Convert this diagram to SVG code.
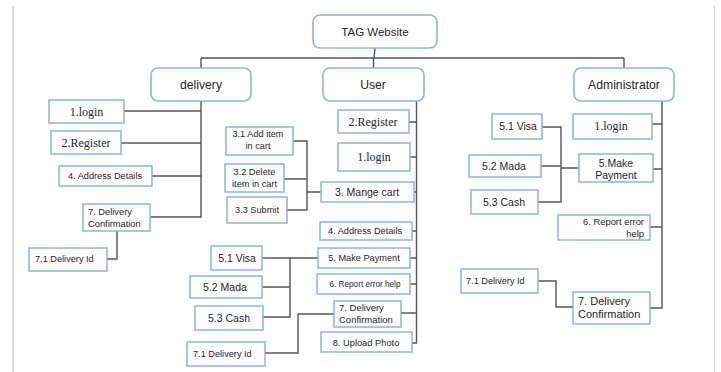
<svg xmlns="http://www.w3.org/2000/svg" width="721" height="372" viewBox="0 0 721 372">
<style>
.hdr{fill:#fff;stroke:#8db3e2;stroke-width:1.6}
.bx{fill:#fff;stroke:#8db3e2;stroke-width:1.5}
.ln{fill:none;stroke:#555;stroke-width:1.4}
text{font-family:"Liberation Sans",Arial,sans-serif;fill:#262626;font-size:9.2px}
.c{text-anchor:middle}
.r{text-anchor:end}
.h{font-size:12.2px}
.sf{font-family:"Liberation Serif","Times New Roman",serif;font-size:12px}
.m{font-size:10.5px}
</style>
<rect width="721" height="372" fill="#fff"/>
<line x1="13" y1="6" x2="13" y2="372" stroke="#d9d9d9" stroke-width="2"/>
<line x1="714.5" y1="6" x2="714.5" y2="372" stroke="#d9d9d9" stroke-width="1.2"/>
<g id="connectors">
<path class="ln" d="M375 48 L374 58 M201 58 H624 M201 58 V68 M373.5 58 V68 M624 58 V68"/>
<path class="ln" d="M201 101 V217 H150 M124 111 H201 M121 143 H201 M152 176 H201 M117 231 V259 H107"/>
<path class="ln" d="M416.5 101 V343 H412 M409 122 H416.5 M410 157 H416.5 M414 192 H416.5 M411 231 H416.5 M410 258 H416.5 M410 284 H416.5 M401 313 H416.5"/>
<path class="ln" d="M293 141 H307 V210 H287 M284 179 H307 M307 192 H321"/>
<path class="ln" d="M262 258 H318 M290 258 V317 H263 M262 287 H290"/>
<path class="ln" d="M265 353 H298 V314 H334"/>
<path class="ln" d="M662 101 V308 H650 M652 124 H662 M653 169 H662 M650 227 H662"/>
<path class="ln" d="M542 127 H561 V202 H538 M541 166 H561 M561 168 H579"/>
<path class="ln" d="M538 281 H556 V307 H573"/>
</g>
<g id="tag"><rect class="hdr" x="313" y="15" width="124" height="33" rx="7"/><text class="c" x="375" y="36" style="font-size:11.5px">TAG Website</text></g>
<g id="delivery"><rect class="hdr" x="151" y="68" width="100" height="33" rx="7"/><text class="c h" x="201" y="89">delivery</text></g>
<g id="user"><rect class="hdr" x="323" y="68" width="101" height="33" rx="7"/><text class="c h" x="373" y="89">User</text></g>
<g id="admin"><rect class="hdr" x="574" y="68" width="100" height="33" rx="7"/><text class="c h" x="624" y="89">Administrator</text></g>

<g id="d-login"><rect class="bx" x="49" y="100" width="75" height="23"/><text class="c sf" x="86.5" y="115.5">1.login</text></g>
<g id="d-register"><rect class="bx" x="51" y="131" width="70" height="23"/><text class="c sf" x="86" y="147">2.Register</text></g>
<g id="d-address"><rect class="bx" x="59" y="166" width="93" height="20"/><text class="c" x="105" y="179">4. Address Details</text></g>
<g id="d-confirm"><rect class="bx" x="83" y="204" width="67" height="27"/><text x="88" y="215" style="font-size:9.3px">7. Delivery</text><text x="88" y="227" style="font-size:9.3px">Confirmation</text></g>
<g id="d-id"><rect class="bx" x="29" y="248" width="78" height="23"/><text x="35" y="262">7.1 Delivery Id</text></g>

<g id="u-register"><rect class="bx" x="338" y="110" width="71" height="23"/><text class="c sf" x="373" y="126">2.Register</text></g>
<g id="u-login"><rect class="bx" x="338" y="143" width="72" height="28"/><text class="c sf" x="374" y="161">1.login</text></g>
<g id="u-cart"><rect class="bx" x="321" y="182" width="93" height="20"/><text class="c m" x="367" y="196">3. Mange cart</text></g>
<g id="u-add"><rect class="bx" x="226" y="127" width="67" height="28"/><text class="c" x="258" y="137">3.1 Add item</text><text class="c" x="258" y="149">in cart</text></g>
<g id="u-delete"><rect class="bx" x="225" y="164" width="59" height="28"/><text class="c" x="254.5" y="175">3.2 Delete</text><text class="c" x="254.5" y="187">item in cart</text></g>
<g id="u-submit"><rect class="bx" x="227" y="197" width="60" height="26"/><text class="c" x="257" y="213">3.3 Submit</text></g>
<g id="u-address"><rect class="bx" x="320" y="222" width="92" height="18"/><text class="c" x="365" y="234">4. Address Details</text></g>
<g id="u-payment"><rect class="bx" x="318" y="248" width="92" height="20"/><text class="c" x="364" y="261">5. Make Payment</text></g>
<g id="u-report"><rect class="bx" x="317" y="274" width="93" height="20"/><text class="c" x="365" y="287" style="font-size:8.2px">6. Report error help</text></g>
<g id="u-confirm"><rect class="bx" x="334" y="301" width="67" height="26"/><text x="339" y="310.5" style="font-size:9.5px">7. Delivery</text><text x="339" y="323" style="font-size:9.5px">Confirmation</text></g>
<g id="u-upload"><rect class="bx" x="321" y="332" width="91" height="20"/><text class="c" x="366" y="345.5" style="font-size:9.3px">8. Upload Photo</text></g>
<g id="u-visa"><rect class="bx" x="211" y="246" width="51" height="24"/><text class="c m" x="237" y="262">5.1 Visa</text></g>
<g id="u-mada"><rect class="bx" x="190" y="276" width="72" height="22"/><text class="c m" x="225" y="291">5.2 Mada</text></g>
<g id="u-cash"><rect class="bx" x="195" y="306" width="68" height="24"/><text class="c m" x="229" y="322">5.3 Cash</text></g>
<g id="u-id"><rect class="bx" x="187" y="342" width="78" height="24"/><text x="193" y="357">7.1 Delivery Id</text></g>

<g id="a-login"><rect class="bx" x="573" y="114" width="79" height="25"/><text class="c sf" x="611" y="130">1.login</text></g>
<g id="a-payment"><rect class="bx" x="579" y="154" width="74" height="28"/><text class="c m" x="616" y="166.5">5.Make</text><text class="c m" x="616" y="178.5">Payment</text></g>
<g id="a-visa"><rect class="bx" x="492" y="114" width="50" height="25"/><text class="c m" x="518" y="130">5.1 Visa</text></g>
<g id="a-mada"><rect class="bx" x="469" y="155" width="72" height="22"/><text class="c m" x="504" y="170">5.2 Mada</text></g>
<g id="a-cash"><rect class="bx" x="471" y="190" width="67" height="24"/><text class="c m" x="504" y="206">5.3 Cash</text></g>
<g id="a-report"><rect class="bx" x="558" y="215" width="92" height="25"/><text class="r" x="644" y="224.5" style="font-size:9.4px">6. Report error</text><text class="r" x="644" y="236.5" style="font-size:9.4px">help</text></g>
<g id="a-id"><rect class="bx" x="461" y="269" width="77" height="24"/><text x="466" y="284">7.1 Delivery Id</text></g>
<g id="a-confirm"><rect class="bx" x="573" y="292" width="77" height="32"/><text x="578" y="305" style="font-size:11px">7. Delivery</text><text x="578" y="318" style="font-size:11px">Confirmation</text></g>
</svg>
